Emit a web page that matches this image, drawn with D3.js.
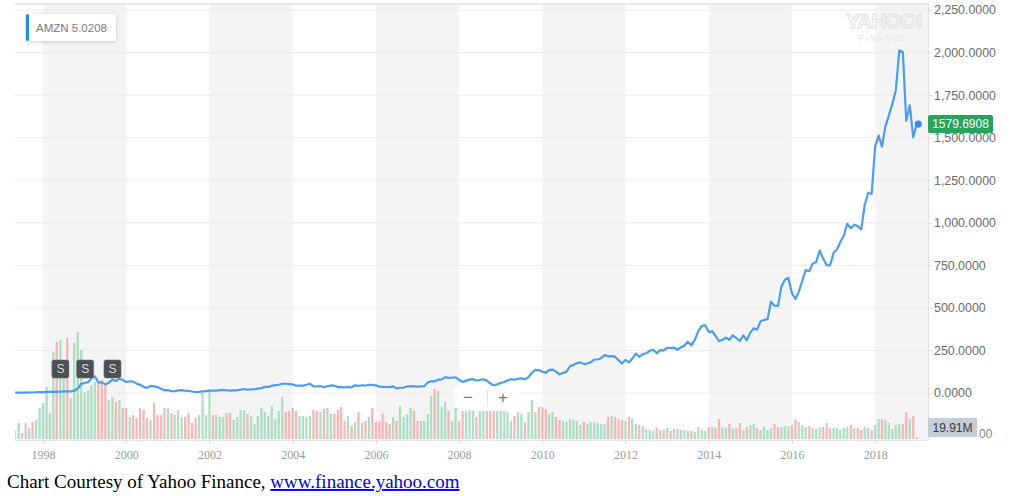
<!DOCTYPE html>
<html><head><meta charset="utf-8">
<script src="https://cdn.jsdelivr.net/npm/d3@7"></script>
<style>
html,body{margin:0;padding:0;background:#fff;}
svg{display:block;}
</style></head>
<body>
<svg id="chart" width="1024" height="496"></svg>
<script>
// ---- data ----
const ticker = "AMZN";
const legendValue = "5.0208";
const lastPriceLabel = "1579.6908";
const volumeBadge = "19.91M";
const volumeAxisTail = "00";
const firstMonth = "1997-05-01";
// monthly closes (split adjusted), May 1997 .. Jan 2019
const closes = [
 1.73,1.81,2.63,2.33,3.68,3.07,4.33,5.02,
 5.29,6.43,7.06,7.80,6.77,8.26,9.90,9.22,10.0,13.5,26.5,53.54,
 58.47,64.06,86.06,97.31,62.59,62.50,50.42,60.11,79.19,70.56,84.25,76.13,
 64.56,68.88,67.00,55.19,48.31,36.31,30.13,41.50,38.44,34.88,24.63,15.56,
 17.31,10.19,10.23,15.78,16.69,14.15,12.49,8.94,5.97,6.98,9.49,10.82,
 14.19,14.10,14.30,16.69,18.23,16.25,13.87,14.94,15.93,19.36,23.35,18.89,
 21.85,22.01,26.03,28.69,35.89,36.32,41.64,46.32,48.43,54.43,54.36,52.62,
 50.40,43.01,43.28,43.60,48.50,54.40,38.92,38.14,40.86,34.13,39.68,44.29,
 43.22,34.67,34.27,32.36,35.51,33.09,45.15,42.70,45.30,44.00,48.46,47.15,
 44.82,37.44,36.53,35.21,34.61,38.68,26.89,30.83,32.12,38.09,40.34,39.46,
 37.67,39.14,39.79,61.33,69.14,68.41,78.54,79.91,93.15,89.15,90.56,92.64,
 77.70,64.47,71.30,78.63,81.62,73.33,76.34,80.81,72.76,57.24,42.70,51.28,
 58.82,64.79,73.44,80.52,77.99,83.66,85.76,81.19,93.36,118.81,135.91,134.52,
 125.41,118.40,135.77,137.10,125.46,109.26,117.89,124.83,157.06,165.23,175.40,180.00,
 169.64,173.29,180.13,196.69,196.69,204.49,222.52,215.23,216.23,213.51,192.29,173.10,
 194.44,179.69,202.51,231.90,212.91,228.35,233.30,248.27,254.32,232.89,252.05,250.87,
 265.50,264.27,266.49,253.81,269.20,277.69,301.22,280.98,312.64,363.57,393.62,398.79,
 358.69,362.10,336.37,304.13,312.55,324.78,312.99,339.04,322.44,305.46,338.64,310.35,
 354.53,380.16,372.10,421.78,429.23,434.09,536.15,512.89,511.89,625.90,664.80,675.89,
 587.00,552.52,593.64,659.59,722.79,715.62,758.81,769.16,837.31,789.82,750.57,749.87,
 823.48,845.04,886.54,924.99,994.62,968.00,987.78,980.60,961.35,1105.28,1176.75,1169.47,
 1450.89,1512.45,1447.34,1566.13,1629.62,1699.80,1777.44,2012.71,2003.00,1598.01,1690.17,1501.97,
 1579.69
];
// monthly volume (tens of millions of shares), same months
const volume = [
 9,16,6,16,11,17,19,31,36,52,26,87,97,99,61,101,41,96,107,89,47,49,54,57,56,59,56,39,42,37,
 39,31,31,22,24,21,31,29,21,19,36,24,24,31,31,26,24,29,22,22,26,16,21,24,46,24,49,24,24,22,
 22,26,26,19,22,
 29,29,25,23,15,23,31,27,23,33,20,28,42,27,28,31,28,23,23,22,23,29,28,27,30,31,25,25,29,32,
 18,23,13,17,27,16,18,22,31,17,18,25,17,15,22,18,33,22,25,31,28,18,18,18,25,43,50,48,32,37,
 28,18,33,18,28,28,29,
 28,22,28,28,28,28,28,28,28,28,27,18,23,27,25,17,27,39,27,32,32,30,25,27,22,19,18,17,20,19,
 18,14,17,15,17,17,16,15,15,22,23,22,20,19,18,22,20,15,14,13,10,9,8,11,9,9,11,8,10,10,
 9,9,8,8,7,12,
 9,8,12,12,11,20,12,11,15,10,11,16,9,12,14,15,11,9,12,9,11,15,12,12,13,13,14,19,17,14,
 12,13,11,10,11,12,16,11,11,11,9,11,12,14,11,11,9,12,11,9,14,20,20,19,16,10,14,15,15,27,
 20,23,2
];
const splitDates = ["1998-06-02","1999-01-05","1999-09-02"];
const priceTicks = [0,250,500,750,1000,1250,1500,1750,2000,2250];
const yearTicks = [1998,2000,2002,2004,2006,2008,2010,2012,2014,2016,2018];
const shadedStarts = [1998,2002,2006,2010,2014,2018];
const captionText = "Chart Courtesy of Yahoo Finance, ";
const captionLink = "www.finance.yahoo.com";

// ---- build ----
const parse = d3.timeParse("%Y-%m-%d");
const start = parse(firstMonth);
const months = closes.map((c,i)=> d3.timeMonth.offset(start, i));
const rows = months.map((d,i)=>({date:d, close:closes[i], vol:volume[i], up: i===0 ? true : closes[i] >= closes[i-1]}));

const svg = d3.select("#chart");
const L = 15.2, R = 927, TOP = 10, Y0 = 393, VBASE = 439;
const x = d3.scaleTime().domain([new Date(1997,4,1), new Date(2019,3,1)]).range([L, R]);
const y = d3.scaleLinear().domain([0, 2250]).range([Y0, TOP]);
const v = d3.scaleLinear().domain([0, 100]).range([VBASE, VBASE-100]);

const defs = svg.append("defs");
defs.append("clipPath").attr("id","rclip").append("rect").attr("x",0).attr("y",0).attr("width",996).attr("height",496);
defs.append("clipPath").attr("id","plotclip").append("rect").attr("x",L).attr("y",0).attr("width",R-L+1).attr("height",442);
const f = defs.append("filter").attr("id","shadow").attr("x","-20%").attr("y","-40%").attr("width","140%").attr("height","180%");
f.append("feDropShadow").attr("dx",0).attr("dy",1).attr("stdDeviation",2).attr("flood-color","#000").attr("flood-opacity",0.18);

// shaded bands
svg.append("g").selectAll("rect").data(shadedStarts).join("rect")
  .attr("x", d=> x(new Date(d,0,1)))
  .attr("width", d=> Math.min(x(new Date(d+2,0,1)), R+1) - x(new Date(d,0,1)))
  .attr("y", 3).attr("height", VBASE+1-3)
  .attr("fill","#f4f4f4");

// top border
svg.append("line").attr("x1",L).attr("x2",R+1).attr("y1",4).attr("y2",4).attr("stroke","#e6e8ea").attr("stroke-width",2);

// gridlines
svg.append("g").selectAll("line").data(priceTicks).join("line")
  .attr("x1",L).attr("x2",R+1).attr("y1",d=>y(d)).attr("y2",d=>y(d))
  .attr("stroke","#ececec").attr("stroke-width",1);

// watermark
const wm = svg.append("g").attr("font-family","Liberation Sans, Arial, sans-serif").attr("text-anchor","middle");
wm.append("text").attr("x",884).attr("y",28).attr("font-size",21).attr("font-weight","bold").attr("fill","none").attr("stroke","#e0e0e0").attr("stroke-width",1).attr("letter-spacing",-1).text("YAHOO!");
wm.append("text").attr("x",883).attr("y",41).attr("font-size",8.5).attr("fill","#e4e4e4").attr("letter-spacing",1.6).text("FINANCE");

// volume bars
const bw = 2.3;
svg.append("g").attr("clip-path","url(#plotclip)").selectAll("rect").data(rows).join("rect")
  .attr("x", d=> x(d.date) - bw/2)
  .attr("width", bw)
  .attr("y", d=> v(d.vol))
  .attr("height", d=> VBASE - v(d.vol))
  .attr("fill", d=> d.up ? "#a6dbbd" : "#f5afaf")
  .attr("opacity", 0.9);

// x axis
const xAxis = d3.axisBottom(x).tickValues(yearTicks.map(yr=>new Date(yr,0,1))).tickFormat(d3.timeFormat("%Y")).tickSize(4).tickPadding(6);
const gx = svg.append("g").attr("transform",`translate(0,${VBASE+1})`).call(xAxis);
gx.select(".domain").attr("stroke","#e4e4e4").attr("d",`M${L},0.5H${R+1}`);
gx.selectAll(".tick line").attr("stroke","#d8d8d8");
gx.selectAll(".tick text").attr("fill","#9a9a9a").attr("font-size",12).attr("font-family","Liberation Serif, Times New Roman, serif");

// right axis
const yAxis = d3.axisRight(y).tickValues(priceTicks).tickFormat(d3.format(",.4f")).tickSize(4).tickPadding(2);
const gy = svg.append("g").attr("clip-path","url(#rclip)").append("g").attr("transform",`translate(${R+1},0)`).call(yAxis);
gy.select(".domain").attr("stroke","#e2e2e2").attr("d",`M0.5,3V${VBASE+1}`);
gy.selectAll(".tick line").attr("stroke","#dcdcdc");
gy.selectAll(".tick text").attr("fill","#6a6a6a").attr("font-size",12.4).attr("font-family","Liberation Sans, Arial, sans-serif");

// volume axis label tail peeking from under the badge
svg.append("text").attr("x",979).attr("y",434).attr("dy","0.35em")
  .attr("fill","#8a8a8a").attr("font-size",12).attr("font-family","Liberation Sans, Arial, sans-serif").text(volumeAxisTail);

// price line
const line = d3.line().x(d=>x(d.date)).y(d=>y(d.close));
svg.append("path").datum(rows).attr("d",line).attr("fill","none")
  .attr("stroke","#4a9df2").attr("stroke-width",2.2).attr("stroke-linejoin","round");

// last point dot
const last = rows[rows.length-1];
svg.append("circle").attr("cx",x(last.date)+1.5).attr("cy",y(last.close)).attr("r",3.6).attr("fill","#2f8ef0");

// last price badge
const by = y(last.close);
svg.append("rect").attr("x",R+1).attr("y",by-9).attr("width",65).attr("height",18).attr("rx",2).attr("fill","#25a55c");
svg.append("text").attr("x",R+1+32.5).attr("y",by).attr("dy","0.36em").attr("text-anchor","middle")
  .attr("fill","#fff").attr("font-size",12).attr("font-family","Liberation Sans, Arial, sans-serif").text(lastPriceLabel);

// volume badge
svg.append("rect").attr("x",R+1).attr("y",418).attr("width",49).attr("height",19).attr("fill","#c6ccd3");
svg.append("text").attr("x",R+1+24.5).attr("y",427.5).attr("dy","0.36em").attr("text-anchor","middle")
  .attr("fill","#333a44").attr("font-size",12).attr("font-family","Liberation Sans, Arial, sans-serif").text(volumeBadge);

// split markers
const sg = svg.append("g").selectAll("g").data(splitDates.map(parse)).join("g")
  .attr("transform", d=>`translate(${x(d)},369)`);
sg.append("rect").attr("x",-8.5).attr("y",-9).attr("width",17).attr("height",18).attr("rx",2)
  .attr("fill","#4a5056").attr("stroke","#6b7076").attr("stroke-width",0.6);
sg.append("text").attr("text-anchor","middle").attr("dy","0.36em").attr("fill","#d9dcdf")
  .attr("font-size",12).attr("font-family","Liberation Sans, Arial, sans-serif").text("S");

// zoom controls
const zc = svg.append("g");
zc.append("rect").attr("x",453).attr("y",386).attr("width",67).attr("height",22).attr("fill","#fff").attr("opacity",0.75);
zc.append("line").attr("x1",487.5).attr("x2",487.5).attr("y1",390).attr("y2",406).attr("stroke","#e2e2e2");
zc.append("text").attr("x",468).attr("y",397).attr("dy","0.35em").attr("text-anchor","middle").attr("fill","#777").attr("font-size",17).attr("font-family","Liberation Sans, Arial, sans-serif").text("\u2212");
zc.append("text").attr("x",503).attr("y",397).attr("dy","0.35em").attr("text-anchor","middle").attr("fill","#777").attr("font-size",17).attr("font-family","Liberation Sans, Arial, sans-serif").text("+");

// legend
const lg = svg.append("g");
lg.append("rect").attr("x",26).attr("y",14).attr("width",90).attr("height",27).attr("rx",2).attr("fill","#fff").attr("filter","url(#shadow)");
lg.append("rect").attr("x",26).attr("y",14).attr("width",3).attr("height",27).attr("rx",1.5).attr("fill","#1e88ef");
lg.append("text").attr("x",36).attr("y",27.5).attr("dy","0.35em").attr("fill","#7a7a7a").attr("font-size",11.5)
  .attr("font-family","Liberation Sans, Arial, sans-serif").text(`${ticker} ${legendValue}`);

// caption
const cap = svg.append("text").attr("x",7).attr("y",488).attr("font-family","Liberation Serif, Times New Roman, serif").attr("font-size",19).attr("fill","#000");
cap.append("tspan").text(captionText);
cap.append("tspan").attr("fill","#0000ee").attr("text-decoration","underline").text(captionLink);
</script>
</body></html>
